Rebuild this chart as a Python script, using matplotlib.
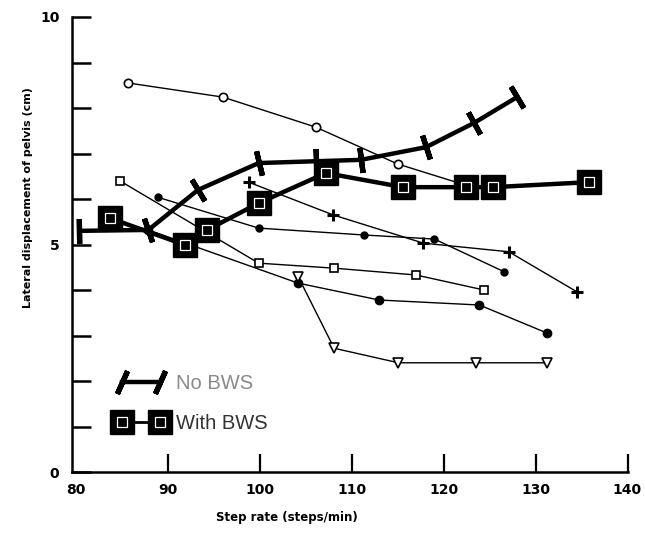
import matplotlib
matplotlib.use("Agg")
import matplotlib.pyplot as plt
from matplotlib.lines import Line2D
import numpy as np

# Step rate (steps/min) and lateral pelvic displacement (cm)
no_bws_x = [80.4, 87.9, 93.3, 99.9, 106.1, 111.0, 118.1, 123.3, 128.0]
no_bws_y = [5.30, 5.32, 6.20, 6.79, 6.83, 6.86, 7.14, 7.67, 8.24]

with_bws_x = [83.7, 91.9, 94.3, 99.9, 107.2, 115.6, 122.4, 125.4, 135.8]
with_bws_y = [5.58, 4.99, 5.32, 5.91, 6.57, 6.26, 6.26, 6.26, 6.37]

# individual subjects (thin lines)
circle_x = [85.7, 96.0, 106.1, 115.0, 122.0]
circle_y = [8.55, 8.24, 7.58, 6.77, 6.33]

square_x = [84.8, 99.9, 108.1, 117.0, 124.4]
square_y = [6.40, 4.59, 4.48, 4.33, 4.00]

dot_x = [88.9, 99.9, 111.3, 119.0, 126.6]
dot_y = [6.04, 5.36, 5.21, 5.12, 4.40]

plus_x = [98.8, 108.0, 117.8, 127.1, 134.5]
plus_y = [6.37, 5.65, 5.03, 4.84, 3.96]

dot2_x = [87.9, 104.2, 113.0, 123.9, 131.3]
dot2_y = [5.32, 4.15, 3.78, 3.67, 3.05]

tri_x = [104.2, 108.1, 115.1, 123.5, 131.3]
tri_y = [4.29, 2.72, 2.40, 2.40, 2.40]

x_ticks = [80, 90, 100, 110, 120, 130, 140]
y_ticks = [0, 5, 10]

fig = plt.figure(figsize=(6.45, 5.35), dpi=100)
W, H = 645, 535
ax = fig.add_axes([72 / W, (H - 472) / H, (627.5 - 72) / W, (472 - 17) / H])
ax.set_xlim(79.6, 140.0)
ax.set_ylim(0, 10)

thin = dict(color="black", lw=1.0, zorder=2)
ax.plot(circle_x, circle_y, marker="o", ms=6, mfc="white", mec="black", mew=1.2, **thin)
ax.plot(square_x, square_y, marker="s", ms=5.5, mfc="white", mec="black", mew=1.2, **thin)
ax.plot(dot_x, dot_y, marker="o", ms=5, mfc="black", mec="black", **thin)
ax.plot(plus_x, plus_y, marker="+", ms=9, mec="black", mew=2.2, **thin)
ax.plot(dot2_x, dot2_y, marker="o", ms=6, mfc="black", mec="black", **thin)
ax.plot(tri_x, tri_y, marker="v", ms=6.5, mfc="white", mec="black", mew=1.2, **thin)

# No BWS: thick line with slash marks across the line
ax.plot(no_bws_x, no_bws_y, color="black", lw=3.2, solid_capstyle="round", zorder=4)
pts = ax.transData.transform(np.column_stack([no_bws_x, no_bws_y]))
for i in range(len(pts)):
    a = pts[max(i - 1, 0)]
    b = pts[min(i + 1, len(pts) - 1)]
    theta = np.degrees(np.arctan2(b[1] - a[1], b[0] - a[0]))
    ax.plot([no_bws_x[i]], [no_bws_y[i]], linestyle="none",
            marker=(2, 2, theta), ms=18, mec="black", mew=3.8, zorder=5)

# With BWS: thick line with large filled squares
ax.plot(with_bws_x, with_bws_y, color="black", lw=3.2, zorder=6,
        marker="s", ms=17, mfc="black", mec="black")
ax.plot(with_bws_x, with_bws_y, linestyle="none", zorder=7,
        marker="s", ms=6.5, mfc="none", mec="white", mew=0.9)

# axes styling
for side in ("top", "right"):
    ax.spines[side].set_visible(False)
for side in ("left", "bottom"):
    ax.spines[side].set_linewidth(1.8)
ax.set_xticks(x_ticks)
ax.set_xticklabels([str(v) for v in x_ticks])
ax.set_yticks(y_ticks)
ax.set_yticklabels([str(v) for v in y_ticks])
ax.set_yticks(range(1, 10), minor=True)
ax.tick_params(axis="x", direction="in", length=13, width=1.6, pad=8,
               labelsize=10)
ax.tick_params(axis="y", which="both", direction="in", length=14, width=1.8,
               pad=9, labelsize=10)
ax.xaxis.get_major_ticks()[0].tick1line.set_visible(False)
for lab in ax.get_xticklabels() + ax.get_yticklabels():
    lab.set_fontweight("bold")

ax.set_xlabel("Step rate (steps/min)", fontsize=8.5, fontweight="bold")
ax.xaxis.set_label_coords((287 - 72) / 555.5, -(511 - 472) / 455)
ax.set_ylabel("Lateral displacement of pelvis (cm)", fontsize=8, fontweight="bold")
ax.yaxis.set_label_coords(-(72 - 33) / 555.5, (472 - 198) / 455)

# legend
h_no = Line2D([], [], color="black", lw=3.2, marker=(2, 2, -24), ms=18,
              mec="black", mew=3.8)
h_with = (Line2D([], [], color="black", lw=2.0, marker="s", ms=17,
                 mfc="black", mec="black"),
          Line2D([], [], linestyle="none", marker="s", ms=6.5, mfc="none",
                 mec="white", mew=0.9))
leg = ax.legend([h_no, h_with], ["No BWS", "With BWS"], numpoints=2,
                loc="upper left", bbox_to_anchor=((116 - 72) / 555.5, (472 - 374) / 455),
                frameon=False, handlelength=2.5, handletextpad=0.5,
                labelspacing=1.05, borderpad=0, borderaxespad=0,
                prop={"family": "Liberation Sans", "size": 14.5})
leg.get_texts()[0].set_color("#8a8a8a")
leg.get_texts()[1].set_color("#333333")

fig.savefig("out.png", dpi=100)
